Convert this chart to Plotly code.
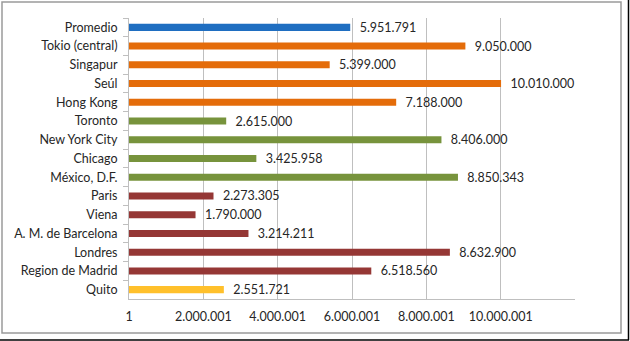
import plotly.graph_objects as go

categories = ["Promedio", "Tokio (central)", "Singapur", "Seúl", "Hong Kong",
              "Toronto", "New York City", "Chicago", "México, D.F.",
              "Paris", "Viena", "A. M. de Barcelona", "Londres",
              "Region de Madrid", "Quito"]
values = [5951791, 9050000, 5399000, 10010000, 7188000,
          2615000, 8406000, 3425958, 8850343,
          2273305, 1790000, 3214211, 8632900,
          6518560, 2551721]
groups = ["avg", "asia", "asia", "asia", "asia",
          "america", "america", "america", "america",
          "europe", "europe", "europe", "europe", "europe", "quito"]
group_colors = {"avg": "#1F6EC1", "asia": "#E46C0A", "america": "#77933C",
                "europe": "#953735", "quito": "#FFC02B"}
tick_values = [1, 2000001, 4000001, 6000001, 8000001, 10000001]


def fmt(v):
    return f"{v:,}".replace(",", ".")


colors = [group_colors[g] for g in groups]
labels = [fmt(v) for v in values]

FONT = "Lato, Open Sans, sans-serif"

fig = go.Figure(go.Bar(
    x=values, y=categories, orientation="h",
    marker=dict(color=colors, line=dict(width=0)),
    text=labels, texttemplate="  %{text}", textposition="outside",
    constraintext="none", cliponaxis=False,
    textfont=dict(family=FONT, size=12.5, color="#262626"),
))

fig.update_layout(
    width=630, height=341,
    margin=dict(l=129, r=55, t=18, b=42),
    paper_bgcolor="white", plot_bgcolor="white",
    bargap=0.625, showlegend=False,
    font=dict(family=FONT, color="#262626"),
    xaxis=dict(range=[1, 11999000], tickvals=tick_values,
               ticktext=[fmt(v) for v in tick_values],
               showgrid=True, gridcolor="#BFBFBF", gridwidth=1,
               zeroline=False, showline=True, linecolor="#BFBFBF", linewidth=1,
               ticks="", tickfont=dict(family=FONT, size=12.5, color="#262626"),
               ticklabelstandoff=6),
    yaxis=dict(autorange="reversed", type="category",
               showline=True, linecolor="#BFBFBF", linewidth=1,
               ticks="outside", ticklen=5, tickcolor="#BFBFBF",
               tickson="boundaries", showgrid=False,
               tickfont=dict(family=FONT, size=12.5, color="#262626"),
               ticklabelstandoff=8),
    shapes=[
        dict(type="rect", xref="paper", yref="paper", layer="below",
             x0=-127/446, x1=492/446, y0=-34/281, y1=297/281,
             line=dict(color="#9A9A9A", width=1.5)),
        dict(type="line", xref="paper", yref="paper",
             x0=-130/446, x1=500/446, y0=-41/281, y1=-41/281,
             line=dict(color="#000000", width=1.5)),
        dict(type="line", xref="paper", yref="paper",
             x0=499.5/446, x1=499.5/446, y0=-41/281, y1=299/281,
             line=dict(color="#000000", width=1.5)),
    ],
)

fig.write_html("out.html")
